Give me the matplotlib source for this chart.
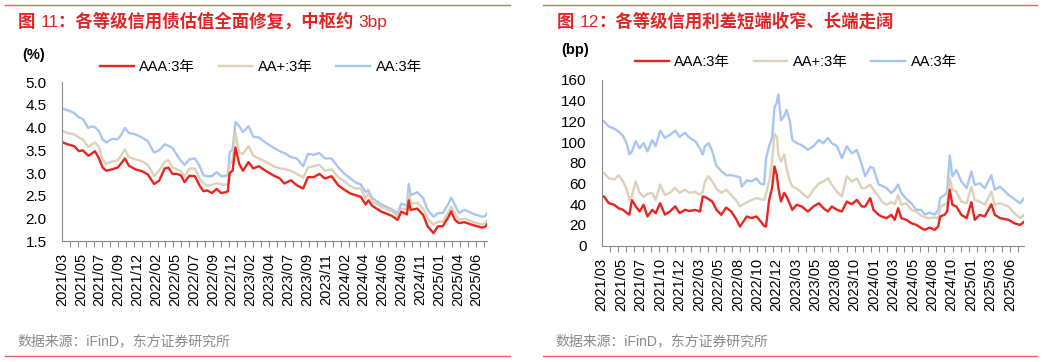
import matplotlib
matplotlib.use("Agg")
import matplotlib.dates as mdates
import matplotlib.pyplot as plt
import numpy as np
import pandas as pd
from matplotlib.lines import Line2D
from matplotlib.offsetbox import AnchoredOffsetbox, HPacker, TextArea

plt.rcParams["font.family"] = ["Liberation Sans", "Noto Sans CJK SC"]
plt.rcParams["axes.unicode_minus"] = False

W, H = 1061, 362
RED = "#e8251f"
BEIGE = "#ddd1ba"
BLUE = "#a6c6f4"
TITLE_RED = "#e02525"
RULE_RED = "#e4605c"
SOURCE_GREY = "#8a8a8a"
AXIS_GREY = "#8c8c8c"

SERIES_NAMES = ["AAA:3年", "AA+:3年", "AA:3年"]
SOURCE = "数据来源：iFinD，东方证券研究所"

# ---- figure 11: 3y credit bond yields (%) ---------------------------------
# title pieces: (text, bold?) - the CJK part is bold, the figures are not
yield_title = [("图 ", True), ("11", False), ("：各等级信用债估值全面修复，中枢约 ", True), ("3bp", False)]
yield_dates = [
    "2021-03-01", "2021-03-22", "2021-04-16", "2021-05-04", "2021-05-18", "2021-06-08", "2021-06-19", "2021-07-03",
    "2021-07-18", "2021-08-01", "2021-08-15", "2021-09-05", "2021-09-27", "2021-10-11", "2021-10-24", "2021-11-08",
    "2021-12-03", "2021-12-28", "2022-01-18", "2022-02-11", "2022-03-02", "2022-03-23", "2022-04-06", "2022-04-21",
    "2022-05-08", "2022-05-23", "2022-06-06", "2022-06-24", "2022-07-15", "2022-08-02", "2022-08-16", "2022-08-30",
    "2022-09-17", "2022-10-05", "2022-10-22", "2022-11-09", "2022-11-16", "2022-11-23", "2022-12-04", "2022-12-15",
    "2022-12-29", "2023-01-12", "2023-02-02", "2023-02-20", "2023-03-13", "2023-04-07", "2023-05-06", "2023-05-31",
    "2023-06-17", "2023-07-12", "2023-08-03", "2023-08-27", "2023-09-14", "2023-10-06", "2023-10-27", "2023-11-17",
    "2023-12-12", "2024-01-06", "2024-01-27", "2024-02-21", "2024-03-13", "2024-03-31", "2024-04-18", "2024-04-29",
    "2024-05-13", "2024-06-17", "2024-07-26", "2024-08-17", "2024-08-31", "2024-09-21", "2024-09-28", "2024-10-05",
    "2024-10-30", "2024-11-21", "2024-12-08", "2024-12-30", "2025-01-16", "2025-02-03", "2025-02-25", "2025-03-07",
    "2025-03-21", "2025-04-05", "2025-04-26", "2025-05-31", "2025-07-02", "2025-07-13", "2025-07-21",
]
yield_aaa = [
    3.68, 3.63, 3.59, 3.48, 3.50, 3.38, 3.42, 3.48, 3.33, 3.12,
    3.05, 3.08, 3.12, 3.22, 3.32, 3.16, 3.08, 3.04, 2.97, 2.76,
    2.83, 3.10, 3.12, 2.98, 2.98, 2.95, 2.80, 2.94, 2.93, 2.72,
    2.60, 2.62, 2.56, 2.65, 2.56, 2.58, 2.60, 3.00, 3.05, 3.56,
    3.20, 3.05, 3.24, 3.10, 3.15, 3.05, 2.95, 2.88, 2.77, 2.84,
    2.73, 2.66, 2.91, 2.91, 2.98, 2.88, 2.93, 2.73, 2.64, 2.55,
    2.51, 2.48, 2.31, 2.40, 2.28, 2.15, 2.06, 1.97, 2.15, 2.09,
    2.40, 2.19, 2.22, 2.08, 1.83, 1.68, 1.83, 1.83, 2.04, 2.16,
    1.97, 1.90, 1.92, 1.85, 1.80, 1.82, 1.88,
]
yield_aa_plus = [
    3.93, 3.88, 3.85, 3.78, 3.74, 3.57, 3.62, 3.67, 3.58, 3.30,
    3.20, 3.25, 3.28, 3.40, 3.52, 3.35, 3.30, 3.26, 3.18, 2.94,
    3.05, 3.25, 3.28, 3.13, 3.08, 3.04, 2.92, 3.10, 3.10, 2.88,
    2.78, 2.72, 2.74, 2.78, 2.75, 2.74, 2.76, 3.20, 3.27, 3.88,
    3.45, 3.42, 3.59, 3.38, 3.32, 3.25, 3.15, 3.10, 3.09, 3.05,
    2.98, 2.90, 3.12, 3.15, 3.18, 3.05, 3.08, 2.91, 2.83, 2.71,
    2.66, 2.66, 2.44, 2.55, 2.37, 2.26, 2.16, 2.06, 2.22, 2.21,
    2.55, 2.33, 2.35, 2.22, 2.00, 1.86, 1.93, 1.93, 2.15, 2.26,
    2.12, 1.97, 2.00, 1.92, 1.87, 1.90, 1.97,
]
yield_aa = [
    4.42, 4.38, 4.32, 4.22, 4.19, 3.99, 4.02, 4.01, 3.92, 3.74,
    3.67, 3.75, 3.74, 3.85, 3.99, 3.88, 3.85, 3.78, 3.70, 3.45,
    3.50, 3.63, 3.60, 3.55, 3.40, 3.27, 3.18, 3.30, 3.32, 3.15,
    2.95, 2.93, 2.93, 3.02, 2.93, 2.94, 2.95, 3.45, 3.52, 4.12,
    4.03, 3.90, 4.03, 3.80, 3.78, 3.67, 3.56, 3.48, 3.44, 3.35,
    3.32, 3.15, 3.42, 3.40, 3.44, 3.32, 3.32, 3.13, 3.00, 2.88,
    2.79, 2.75, 2.58, 2.62, 2.45, 2.31, 2.20, 2.12, 2.33, 2.28,
    2.76, 2.51, 2.58, 2.45, 2.19, 2.04, 2.12, 2.12, 2.33, 2.46,
    2.30, 2.12, 2.19, 2.10, 2.04, 2.05, 2.12,
]
yield_ticklabels = [
    "2021/03", "2021/05", "2021/07", "2021/09", "2021/12", "2022/02", "2022/05", "2022/07",
    "2022/09", "2022/12", "2023/02", "2023/04", "2023/07", "2023/09", "2023/11", "2024/02",
    "2024/04", "2024/06", "2024/09", "2024/11", "2025/01", "2025/04", "2025/06",
]

# ---- figure 12: 3y credit spreads (bp) ------------------------------------
spread_title = [("图 ", True), ("12", False), ("：各等级信用利差短端收窄、长端走阔", True)]
spread_dates = [
    "2021-03-01", "2021-03-10", "2021-03-28", "2021-04-17", "2021-05-05", "2021-05-21", "2021-06-05", "2021-06-14",
    "2021-06-24", "2021-07-08", "2021-07-23", "2021-08-07", "2021-08-22", "2021-09-09", "2021-09-22", "2021-10-09",
    "2021-10-27", "2021-11-15", "2021-12-05", "2021-12-22", "2022-01-11", "2022-01-29", "2022-02-19", "2022-03-09",
    "2022-03-20", "2022-03-28", "2022-04-11", "2022-04-25", "2022-05-11", "2022-05-29", "2022-06-17", "2022-07-06",
    "2022-07-24", "2022-08-08", "2022-08-15", "2022-09-03", "2022-09-21", "2022-10-10", "2022-10-24", "2022-11-08",
    "2022-11-15", "2022-11-27", "2022-12-08", "2022-12-17", "2022-12-26", "2023-01-01", "2023-01-11", "2023-01-23",
    "2023-02-01", "2023-02-14", "2023-02-23", "2023-03-12", "2023-03-31", "2023-04-23", "2023-05-14", "2023-06-04",
    "2023-06-21", "2023-07-08", "2023-07-23", "2023-08-12", "2023-08-30", "2023-09-18", "2023-10-07", "2023-10-26",
    "2023-11-14", "2023-11-27", "2023-12-16", "2023-12-28", "2024-01-17", "2024-01-28", "2024-02-16", "2024-03-05",
    "2024-03-18", "2024-03-31", "2024-04-12", "2024-05-01", "2024-05-20", "2024-06-08", "2024-06-27", "2024-07-10",
    "2024-07-29", "2024-08-17", "2024-08-30", "2024-09-07", "2024-09-24", "2024-10-03", "2024-10-13", "2024-10-23",
    "2024-11-07", "2024-11-26", "2024-12-16", "2025-01-03", "2025-01-16", "2025-02-04", "2025-02-23", "2025-03-20",
    "2025-04-02", "2025-04-22", "2025-05-24", "2025-06-15", "2025-07-07", "2025-07-22",
]
spread_aaa = [
    47, 47.5, 41, 39.5, 36, 34.6, 31.4, 30, 44, 38,
    33, 39.5, 28.2, 34.6, 31.4, 41, 30, 33, 38, 31.4,
    34.6, 33.5, 34.6, 33, 47.5, 47, 45, 42.6, 34.6, 29.8,
    36.8, 33, 26, 18.5, 21, 28.2, 26.6, 28.2, 24, 19,
    18.5, 44.2, 55.5, 76.5, 68.4, 55.5, 42.6, 51, 47.5, 40,
    34.6, 39.5, 37.8, 33, 37.8, 41, 36.2, 33, 37.8, 34.6,
    33, 42.6, 40, 44.2, 37.8, 37.8, 45.9, 34.6, 29.8, 28.2,
    26.6, 29.8, 25, 36.2, 26.6, 25, 21.7, 20.1, 16.9, 15.3,
    17.5, 15.3, 18.5, 28.2, 30, 33, 54, 39.5, 37.8, 29.8,
    26.6, 42, 25, 29.8, 28.2, 40, 29.8, 26.6, 25, 21.7,
    20, 23,
]
spread_aa_plus = [
    71, 70, 65, 64, 68, 62, 54, 44, 48, 62,
    51, 47, 50, 51, 44, 59, 49, 51, 56, 51,
    54, 51, 52, 49, 52, 62, 67, 62, 55, 51,
    54, 49, 44, 38, 39, 42, 44, 46, 45, 44,
    50, 62, 81, 108, 105, 88, 81, 88, 75, 62,
    57, 55, 51, 46, 54, 60, 62, 65, 59, 52,
    47.5, 67, 62, 65, 55.5, 55.5, 59, 54, 47.5, 43,
    39.5, 42, 40, 49, 39.5, 41, 34.6, 33, 29, 27.5,
    26.6, 27.3, 26.6, 37.8, 40, 41, 65, 54, 52, 42.6,
    41, 57, 44, 42.6, 39.5, 52, 39.5, 41, 37.8, 31.4,
    26.6, 29.8,
]
spread_aa = [
    121, 120, 115, 113, 110, 106, 98, 88, 91, 101,
    94, 99, 91, 102, 96, 111, 104, 107, 111, 105,
    109, 104, 101, 94, 88, 96, 99, 91, 77, 72,
    68, 68, 67, 66, 57, 63, 62, 65, 60, 59,
    84, 96, 104, 133, 138, 146, 121, 125, 131, 120,
    102, 99, 97, 92.5, 96, 102, 99, 104, 99, 96,
    84.5, 96, 89, 92.5, 78, 67, 76, 75, 59, 58,
    55.5, 50.7, 54, 59, 51, 45, 41, 34.6, 34.6, 30,
    32, 30, 34.6, 46, 49, 52, 87, 67, 73, 62,
    55.5, 71.6, 58.7, 60.3, 55.5, 68, 54, 57, 49, 45,
    41, 45.6,
]
spread_ticklabels = [
    "2021/03", "2021/05", "2021/07", "2021/10", "2021/12", "2022/03", "2022/05", "2022/08",
    "2022/10", "2022/12", "2023/03", "2023/05", "2023/08", "2023/10", "2024/01", "2024/03",
    "2024/05", "2024/08", "2024/10", "2025/01", "2025/03", "2025/06",
]


def px(x, y):
    """Pixel position in the 1061x362 canvas -> figure fraction."""
    return x / W, 1 - y / H


def draw_panel(fig, box, dates, series, ticklabels, xrange, label_step, minor_step,
               ylim, ystep, yfmt, label_pad):
    left, top, right, bottom = box
    ax = fig.add_axes([left / W, 1 - bottom / H, (right - left) / W, (bottom - top) / H])
    x = pd.to_datetime(dates)
    # AA drawn first so AAA ends up on top, as in the original
    for values, color in reversed(list(zip(series, [RED, BEIGE, BLUE]))):
        ax.plot(x, values, color=color, lw=1.7, solid_joinstyle="round")

    x0, x1 = mdates.date2num(pd.to_datetime(xrange))
    ax.set_xlim(x0, x1)
    ax.set_xticks(x0 + np.arange(len(ticklabels)) * label_step, ticklabels, rotation=90)
    ax.set_xticks(np.arange(x0, x1, minor_step), minor=True)
    ax.tick_params(axis="x", which="major", length=0, pad=label_pad, labelsize=10.5)
    ax.tick_params(axis="x", which="minor", length=4, width=0.8, color=AXIS_GREY, direction="out")

    ax.set_ylim(*ylim)
    ax.set_yticks(np.arange(ylim[0], ylim[1] + ystep / 2, ystep))
    ax.yaxis.set_major_formatter(plt.FormatStrFormatter(yfmt))
    ax.tick_params(axis="y", length=0, pad=11, labelsize=11)

    for side in ("top", "right"):
        ax.spines[side].set_visible(False)
    for side in ("left", "bottom"):
        ax.spines[side].set_color(AXIS_GREY)
        ax.spines[side].set_linewidth(0.8)
    return ax


def add_title(fig, pieces, x, y):
    parts = [TextArea(text, textprops=dict(color=TITLE_RED, fontsize=12.5,
                                           fontweight="bold" if bold else "normal"))
             for text, bold in pieces]
    box = HPacker(children=parts, pad=0, sep=0, align="baseline")
    fig.add_artist(AnchoredOffsetbox(loc="center left", child=box, pad=0, borderpad=0,
                                     frameon=False, bbox_to_anchor=px(x, y),
                                     bbox_transform=fig.transFigure))


fig = plt.figure(figsize=(W / 100, H / 100), dpi=100)

draw_panel(fig, (62, 82, 487.3, 241.3), yield_dates, [yield_aaa, yield_aa_plus, yield_aa],
           yield_ticklabels, ("2021-03-01", "2025-07-21"), 71.05, 30,
           (1.5, 5.0), 0.5, "%.1f", 8.5)
draw_panel(fig, (601.7, 79.9, 1024, 245.7), spread_dates, [spread_aaa, spread_aa_plus, spread_aa],
           spread_ticklabels, ("2021-03-01", "2025-07-22"), 73.85, 31,
           (0, 160), 20, "%d", 9)

handles = [Line2D([], [], color=c, lw=1.7) for c in (RED, BEIGE, BLUE)]
legend_kw = dict(loc="center left", ncol=3, frameon=False, fontsize=10.5, handlelength=2.3,
                 handletextpad=0.4, columnspacing=1.6, borderpad=0, borderaxespad=0)
fig.legend(handles, SERIES_NAMES, bbox_to_anchor=px(100, 67), **legend_kw)
fig.legend(handles, SERIES_NAMES, bbox_to_anchor=px(635, 62), **legend_kw)

# panel titles, units, sources and the red rules framing each panel
add_title(fig, yield_title, 18, 21)
add_title(fig, spread_title, 557, 21)
fig.text(*px(34, 55), "(%)", fontsize=10.5, fontweight="bold", ha="center", va="center")
fig.text(*px(575, 50), "(bp)", fontsize=10.5, fontweight="bold", ha="center", va="center")
for x_src in (17, 555):
    fig.text(*px(x_src, 341), SOURCE, color=SOURCE_GREY, fontsize=10, ha="left", va="center")

for x_a, x_b in ((5, 510), (543, 1037)):
    for y in (5, 356):
        (xa, ya), (xb, yb) = px(x_a, y), px(x_b, y)
        fig.add_artist(Line2D([xa, xb], [ya, yb], color=RULE_RED, lw=1.0))

fig.savefig("out.png", dpi=100)
